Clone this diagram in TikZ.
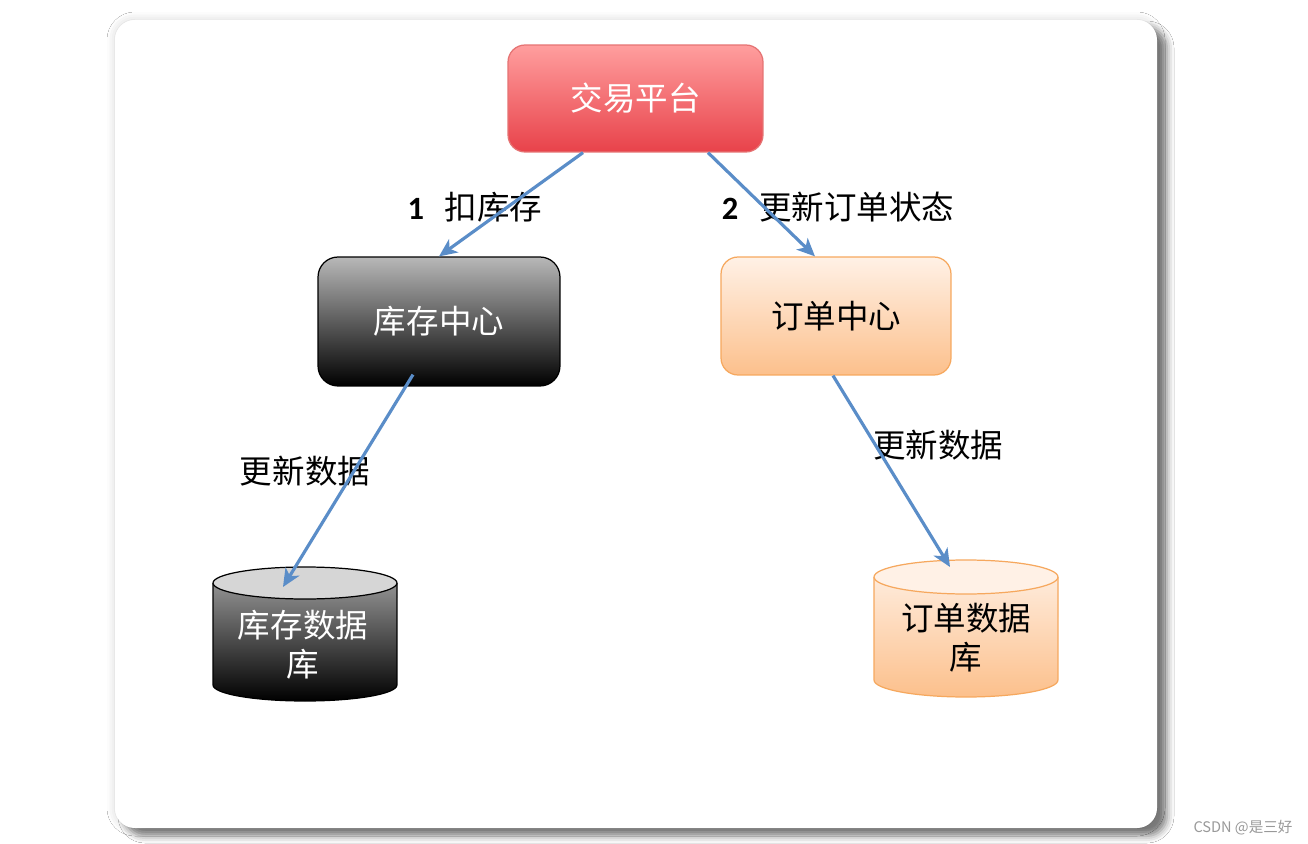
\documentclass[tikz,border=0pt]{standalone}
\usepackage{fontspec}
\setmainfont{Noto Sans CJK SC}
\newfontfamily\numfont{Carlito}
\usetikzlibrary{arrows.meta,shadows.blur}

\definecolor{tradetop}{HTML}{FF9E9E}
\definecolor{tradebot}{HTML}{E8424A}
\definecolor{tradeline}{HTML}{E57373}
\definecolor{graytop}{HTML}{B8B8B8}
\definecolor{orangetop}{HTML}{FFF1E6}
\definecolor{orangebot}{HTML}{FCC08C}
\definecolor{orangeline}{HTML}{F6A85E}
\definecolor{dbgray}{HTML}{D6D6D6}
\definecolor{arrowblue}{HTML}{5A8DC8}

\begin{document}
\begin{tikzpicture}[x=0.02cm, y=-0.02cm,
    box/.style={draw, rounded corners=0.34cm, line width=0.7pt, inner sep=0pt, align=center, font=\fontsize{18.5}{22}\selectfont},
    lbl/.style={inner sep=0pt, align=center, font=\fontsize{18.5}{22}\selectfont},
    flow/.style={draw=arrowblue, line width=1.8pt, -{Stealth[length=0.36cm, width=0.32cm, inset=0.1cm]}}]

      % Card
      \useasboundingbox (0,0) rectangle (1308,844);
      \fill[white] (0,0) rectangle (1308,844);
      \fill[white, rounded corners=0.4cm, blur shadow={shadow xshift=0cm, shadow yshift=0cm, shadow blur radius=0.16cm, shadow opacity=18}] (115,20) rectangle (1157,828);
      \fill[white, rounded corners=0.4cm, blur shadow={shadow xshift=0.2cm, shadow yshift=-0.16cm, shadow blur radius=0.14cm, shadow opacity=50}] (115,20) rectangle (1157,828);

      % Nodes
      \node[box, draw=tradeline, top color=tradetop, bottom color=tradebot, text=white, minimum width=5.1cm, minimum height=2.14cm] at (635.5,98.5) (trade) {交易平台};
      \node[box, draw=black, top color=graytop, bottom color=black, text=white, minimum width=4.84cm, minimum height=2.58cm, rounded corners=0.4cm] at (439,321.5) (stock) {库存中心};
      \node[box, draw=orangeline, top color=orangetop, bottom color=orangebot, minimum width=4.6cm, minimum height=2.36cm] at (836,316) (order) {订单中心};

      % Databases
      \shade[top color=gray!70, bottom color=black] (213,583) -- (213,685) arc[start angle=180, end angle=360, x radius=1.84cm, y radius=0.32cm] -- (397,583) arc[start angle=0, end angle=180, x radius=1.84cm, y radius=0.32cm] -- cycle;
      \draw[line width=0.7pt] (213,583) -- (213,685) arc[start angle=180, end angle=360, x radius=1.84cm, y radius=0.32cm] -- (397,583);
      \filldraw[fill=dbgray, line width=0.7pt] (305,583) ellipse [x radius=1.84cm, y radius=0.32cm];
      \node[lbl, text=white] at (303,645) (stockdb) {库存数据\\库};
      \coordinate (stockdbin) at (283,587);

      \shade[top color=orangetop, bottom color=orangebot] (874,577) -- (874,680) arc[start angle=180, end angle=360, x radius=1.84cm, y radius=0.34cm] -- (1058,577) arc[start angle=0, end angle=180, x radius=1.84cm, y radius=0.34cm] -- cycle;
      \draw[orangeline, line width=0.7pt] (874,577) -- (874,680) arc[start angle=180, end angle=360, x radius=1.84cm, y radius=0.34cm] -- (1058,577);
      \filldraw[draw=orangeline, fill=orangetop, line width=0.7pt] (966,577) ellipse [x radius=1.84cm, y radius=0.34cm];
      \node[lbl] at (966,638) (orderdb) {订单数据\\库};
      \coordinate (orderdbin) at (950,567);

      % Labels
      \node[lbl] at (475,207) (deduct) {{\numfont\bfseries 1}\hspace{0.42cm}扣库存};
      \node[lbl] at (838,207) (status) {{\numfont\bfseries 2}\hspace{0.42cm}更新订单状态};
      \node[lbl] at (305,471) (upd1) {更新数据};
      \node[lbl] at (938,445) (upd2) {更新数据};
      \node[inner sep=0pt, text=gray!80, font=\fontsize{8.3}{10}\selectfont] at (1243,828) (mark) {CSDN @是三好};

      % Arrows
      \draw[flow] ([xshift=-1.05cm]trade.south) -- (stock.north);
      \draw[flow] ([xshift=1.45cm]trade.south) -- ([xshift=-0.42cm]order.north);
      \draw[flow] ([xshift=-0.52cm, yshift=0.24cm]stock.south) -- (stockdbin);
      \draw[flow] ([xshift=-0.06cm]order.south) -- (orderdbin);
    \end{tikzpicture}
\end{document}
